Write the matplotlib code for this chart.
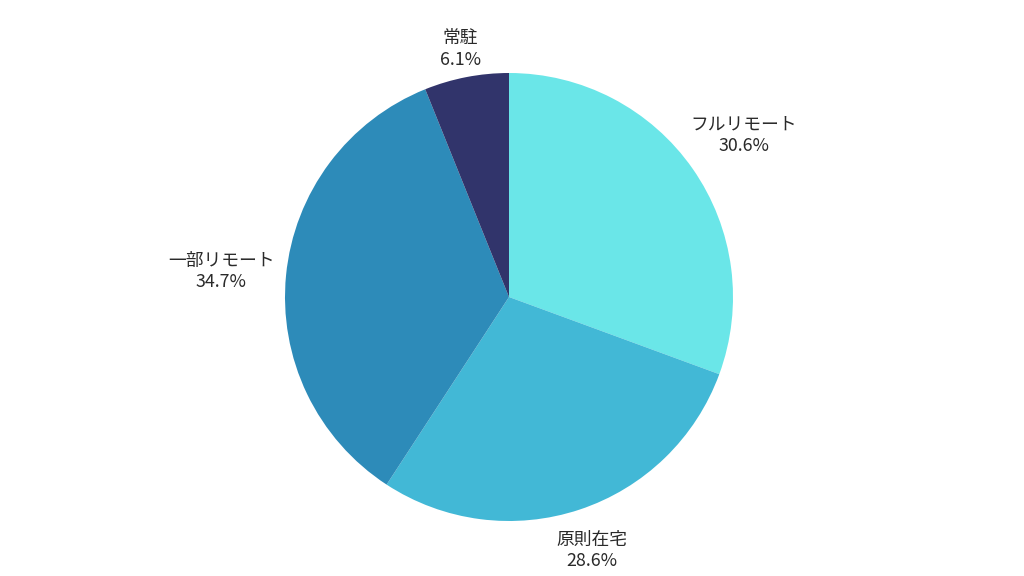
import numpy as np
import matplotlib.pyplot as plt

plt.rcParams['font.family'] = ['Noto Sans CJK JP', 'DejaVu Sans']

labels = ["フルリモート", "原則在宅", "一部リモート", "常駐"]
shares = [30.6, 28.6, 34.7, 6.1]
colors = ["#6ae6e8", "#42b8d6", "#2d8bb9", "#31346b"]
# how far each label sits from the centre (in radii)
label_dist = [1.28, 1.18, 1.29, 1.14]

fig = plt.figure(figsize=(10.24, 5.76), dpi=100)
ax = fig.add_axes([0, 0, 1, 1])

wedges, _ = ax.pie(shares, colors=colors, startangle=90, counterclock=False,
                   wedgeprops=dict(linewidth=0))

for w, name, val, d in zip(wedges, labels, shares, label_dist):
    mid = np.deg2rad((w.theta1 + w.theta2) / 2)
    ax.text(d * np.cos(mid), d * np.sin(mid) - 0.012, f"{name}\n{val:.1f}%",
            ha="center", va="center", fontsize=12.8, color="#2a2a2a",
            linespacing=1.25)

# pie centre at (509, 297) px, radius 224 px
r = 224
ax.set_xlim(-509 / r, (1024 - 509) / r)
ax.set_ylim(-(576 - 297) / r, 297 / r)
ax.set_aspect("auto")
ax.axis("off")

fig.savefig("out.png", dpi=100, facecolor="white")
